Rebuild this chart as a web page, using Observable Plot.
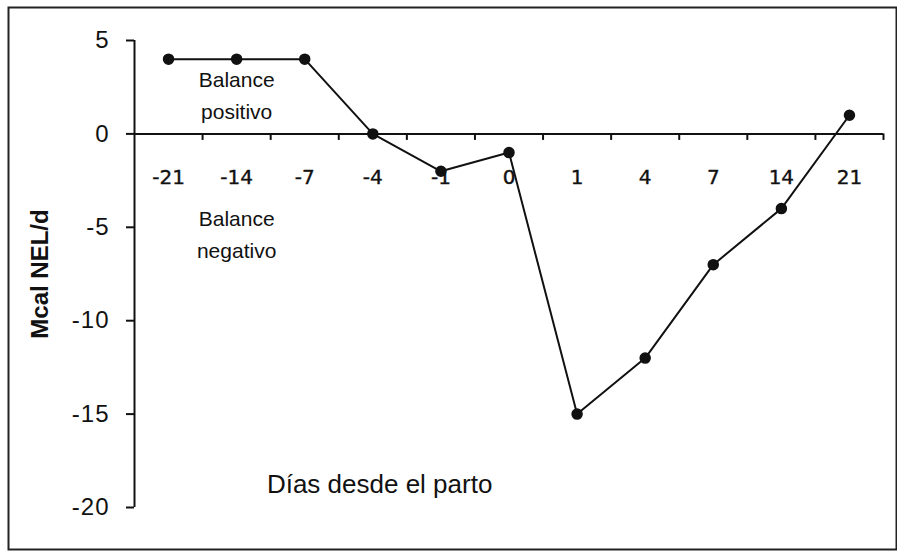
<!DOCTYPE html>
<html><head><meta charset="utf-8">
<script src="https://cdn.jsdelivr.net/npm/d3@7"></script>
<script src="https://cdn.jsdelivr.net/npm/@observablehq/plot@0.6"></script>
<style>
body{margin:0;background:#fff}
svg{display:block}
g[aria-label="annot"] text{letter-spacing:1.5px}
g[aria-label="xlabel"] text{letter-spacing:2px}
g[aria-label="ytitle"] text{letter-spacing:2.8px}
g[aria-label="y-axis tick label"] text{letter-spacing:1px}
g[aria-label="days"] text{letter-spacing:1px}
</style></head><body><div id="chart"></div>
<script>
const days = ["-21","-14","-7","-4","-1","0","1","4","7","14","21"];
const balance = [4,4,4,0,-2,-1,-15,-12,-7,-4,1];
const yTicks = [5,0,-5,-10,-15,-20];
const yTitle = "Mcal NEL/d";
const notes = [
  {text: "Balance\npositivo", at: 1, value: 2.2},
  {text: "Balance\nnegativo", at: 1, value: -5.25}
];
const xTitle = {text: "Días desde el parto", at: 3.1, value: -18.8};

const rows = days.map((d, i) => ({i, day: d, v: balance[i]}));
const bounds = days.map((d, i) => i + 0.5);

const chart = Plot.plot({
  width: 897,
  height: 552,
  marginLeft: 134,
  marginRight: 14,
  marginTop: 40,
  marginBottom: 45,
  style: {fontFamily: "'Liberation Sans', Arial, sans-serif", fontSize: "20px", background: "white", color: "#111"},
  x: {domain: [-0.5, days.length - 0.5], axis: null},
  y: {domain: [-20, 5], axis: null},
  marks: [
    Plot.frame({stroke: "#222", strokeWidth: 2, insetLeft: -126, insetTop: -33, insetRight: -13, insetBottom: -42}),
    Plot.axisY({ticks: yTicks, tickSize: 8, tickPadding: 17, tickFormat: d => String(d), fontSize: 24, stroke: "#111", strokeWidth: 2}),
    Plot.ruleX([-0.5], {y1: d3.min(yTicks), y2: d3.max(yTicks), stroke: "#111", strokeWidth: 2}),
    Plot.ruleY([0], {x1: -0.5, x2: days.length - 0.5, stroke: "#111", strokeWidth: 2}),
    Plot.ruleX(bounds, {x: d => d, y1: 0, y2: -0.35, stroke: "#111", strokeWidth: 2}),
    Plot.text(rows, {x: "i", y: 0, text: "day", dy: 44, fontFamily: "'DejaVu Sans', Verdana, sans-serif", fontSize: 20, fill: "#111", stroke: "#111", strokeWidth: 0.4, ariaLabel: "days"}),
    Plot.line(rows, {x: "i", y: "v", stroke: "#111", strokeWidth: 2}),
    Plot.dot(rows, {x: "i", y: "v", r: 5, fill: "#111", stroke: "#111"}),
    Plot.text(notes, {x: "at", y: "value", text: "text", fontSize: 21, lineHeight: 1.5, fill: "#111", ariaLabel: "annot"}),
    Plot.text([xTitle], {x: "at", y: "value", text: "text", fontSize: 26, fill: "#111", ariaLabel: "xlabel"}),
    Plot.text([yTitle], {frameAnchor: "left", textAnchor: "middle", dx: -94, rotate: -90, text: d => d, fontSize: 24, fontWeight: "bold", fill: "#111", ariaLabel: "ytitle"})
  ]
});
document.getElementById("chart").appendChild(chart);
</script></body></html>
